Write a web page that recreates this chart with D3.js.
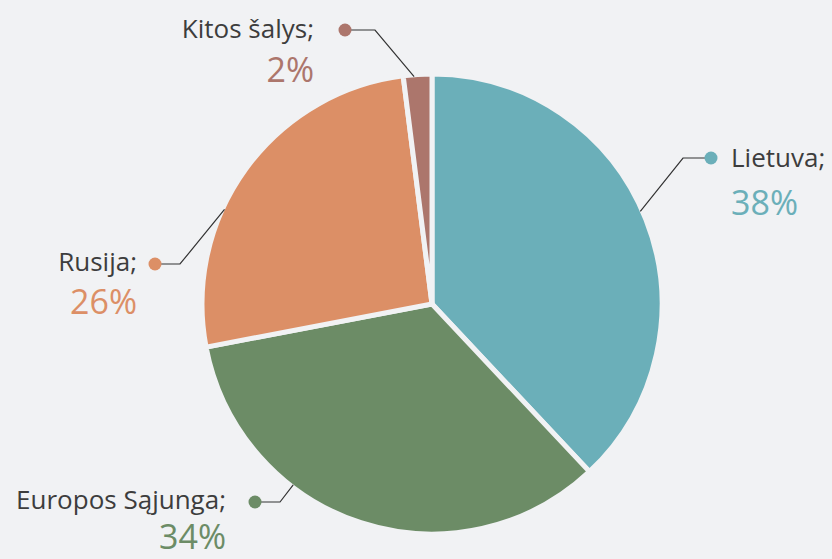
<!DOCTYPE html>
<html><head><meta charset="utf-8">
<script src="https://cdn.jsdelivr.net/npm/d3@7/dist/d3.min.js"></script>
<style>html,body{margin:0;padding:0;background:#f1f2f4;}svg{display:block;}</style>
</head><body>
<svg id="c" width="832" height="559"></svg>
<script>
const categories = ["Lietuva", "Europos Sąjunga", "Rusija", "Kitos šalys"];
const values = [38, 34, 26, 2];
const colors = ["#6bafb9", "#6c8c66", "#dc8f66", "#ac766c"];
// label layout: anchor angle on the rim (deg), elbow, dot and text positions
const labelLayout = [
  {ang: 66,    elbow: [683, 158], dot: [711, 158], text: [731, 167], pct: [731, 215], anchor: "start"},
  {ang: 217.5, elbow: [280, 502], dot: [255, 502], text: [226, 509], pct: [226, 549], anchor: "end"},
  {ang: 294.5, elbow: [180, 264], dot: [155, 264], text: [137, 271], pct: [137, 314], anchor: "end"},
  {ang: 355.5, elbow: [375, 30],  dot: [345, 30],  text: [314, 38],  pct: [314, 82],  anchor: "end"}
];
const svg = d3.select("#c");
const W = 832, H = 559, cx = 432, cy = 304, R = 230;
svg.append("rect").attr("width", W).attr("height", H).attr("fill", "#f1f2f4");
const g = svg.append("g").attr("transform", `translate(${cx},${cy})`);
const pie = d3.pie().sort(null).value(d => d)(values);
const arc = d3.arc().innerRadius(0).outerRadius(R);
g.selectAll("path").data(pie).join("path")
  .attr("d", arc).attr("fill", (d, i) => colors[i])
  .attr("stroke", "#f1f2f4").attr("stroke-width", 5).attr("stroke-linejoin", "miter");
const font = "'Open Sans', 'DejaVu Sans', sans-serif";
const total = d3.sum(values);
labelLayout.forEach((L, i) => {
  const a = L.ang * Math.PI / 180, r = R - 2;
  const sx = cx + r * Math.sin(a), sy = cy - r * Math.cos(a);
  svg.append("polyline")
    .attr("points", [[sx, sy], L.elbow, L.dot].map(p => p.join(",")).join(" "))
    .attr("fill", "none").attr("stroke", "#333").attr("stroke-width", 1.2);
  svg.append("circle").attr("cx", L.dot[0]).attr("cy", L.dot[1]).attr("r", 6.5).attr("fill", colors[i]);
  svg.append("text").attr("x", L.text[0]).attr("y", L.text[1])
    .attr("text-anchor", L.anchor).attr("font-family", font).attr("font-size", 26)
    .attr("fill", "#3d3d3d").text(categories[i] + ";");
  svg.append("text").attr("x", L.pct[0]).attr("y", L.pct[1])
    .attr("text-anchor", L.anchor).attr("font-family", font).attr("font-size", 34)
    .attr("fill", colors[i]).text(Math.round(values[i] / total * 100) + "%");
});
</script>
</body></html>
